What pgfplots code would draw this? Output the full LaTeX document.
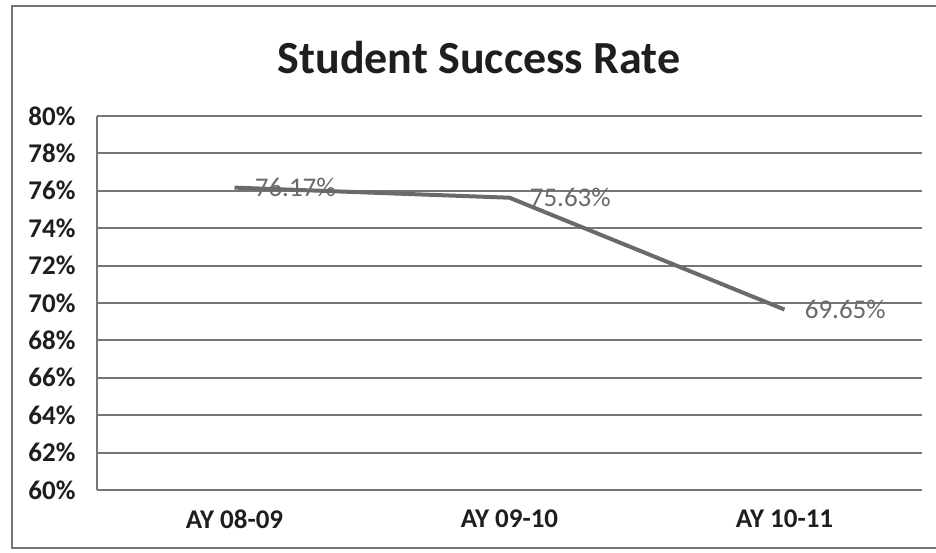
\documentclass[border=0pt]{standalone}
\usepackage{pgfplots}
\pgfplotsset{compat=1.18}
\usepackage{fontspec}
\setmainfont{Carlito}
\definecolor{gridc}{HTML}{767676}
\definecolor{linec}{HTML}{6A6A6A}
\definecolor{txt}{HTML}{1E1E1E}
\begin{document}
\begin{tikzpicture}
\useasboundingbox (0,0) rectangle (936pt,552pt);
\draw[gridc, line width=2pt] (12pt,546pt) rectangle (960pt,4pt);
\node[font=\bfseries\fontsize{46}{50}\selectfont, text=txt] at (479pt,494pt) {Student Success Rate};
\begin{axis}[
  at={(97pt,62pt)}, anchor=south west,
  width=825pt, height=374pt, scale only axis,
  xmin=-0.5, xmax=2.5, ymin=60, ymax=80,
  ytick={60,62,...,80},
  xtick={0,1,2}, xticklabels={AY 08-09, AY 09-10, AY 10-11},
  /pgf/number format/assume math mode=true,
  yticklabel={\pgfmathprintnumber{\tick}\%},
  ymajorgrids, grid style={gridc, line width=2pt},
  axis lines*=left,
  axis line style={draw=gridc, line width=2pt, -},
  major tick length=0pt,
  ticklabel style={font=\bfseries\fontsize{27}{30}\selectfont, text=txt},
  yticklabel style={xshift=-18pt},
  xticklabel style={yshift=-16pt},
  clip=false,
]
\addplot[color=linec, line width=4pt, mark=none,
  point meta=explicit symbolic,
  nodes near coords,
  nodes near coords style={anchor=west, xshift=15pt, font=\fontsize{27}{29}\selectfont, text=linec}]
  coordinates {
  (0,76.17) [76.17\%]
  (1,75.63) [75.63\%]
  (2,69.65) [69.65\%]
};
\end{axis}
\end{tikzpicture}
\end{document}
